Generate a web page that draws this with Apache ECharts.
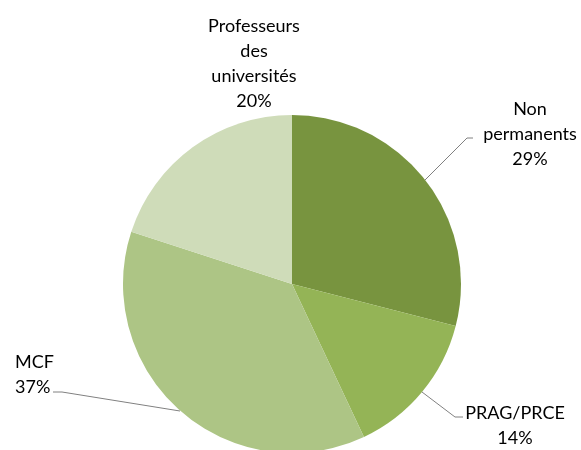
<!DOCTYPE html>
<html>
<head>
<meta charset="utf-8">
<script src="https://cdn.jsdelivr.net/npm/echarts@6/dist/echarts.min.js"></script>
<style>
  html, body { margin: 0; padding: 0; background: #fff; }
  #chart { width: 581px; height: 450px; }
</style>
</head>
<body>
<div id="chart"></div>
<script>
// categories and shares (%)
const categories = ['Non\npermanents', 'PRAG/PRCE', 'MCF', 'Professeurs\ndes\nuniversités']
const shares = [29, 14, 37, 20]
const colors = ['#78943f', '#94b456', '#adc585', '#cfdcb9']

// where each label sits and its leader line (index follows categories)
const labelPos = [
  { x: 530, y: 134, align: 'center', line: [[425, 180], [467, 138], [473, 138]] },
  { x: 515, y: 426, align: 'center', line: [[422, 392], [455, 417], [463, 417]] },
  { x: 15, y: 375, align: 'left', line: [[180, 411], [62, 392], [53, 392]] },
  { x: 254, y: 64, align: 'center', line: null }
]

const chart = echarts.init(document.getElementById('chart'))

chart.setOption({
  animation: false,
  series: [{
    type: 'pie',
    center: [292, 284],
    radius: 169,
    startAngle: 90,
    clockwise: true,
    data: categories.map((name, i) => ({
      name: name,
      value: shares[i],
      itemStyle: { color: colors[i] },
      labelLine: { show: labelPos[i].line !== null }
    })),
    itemStyle: { borderWidth: 0 },
    emphasis: { disabled: true },
    label: {
      show: true,
      position: 'outside',
      formatter: p => p.name + '\n' + Math.round(p.percent) + '%',
      color: '#000',
      fontFamily: 'Lato',
      fontSize: 18,
      lineHeight: 25
    },
    labelLine: {
      show: true,
      lineStyle: { color: '#808080', width: 1 }
    },
    labelLayout: function (params) {
      const p = labelPos[params.dataIndex]
      const out = { x: p.x, y: p.y, align: p.align, verticalAlign: 'middle' }
      if (p.line) out.labelLinePoints = p.line
      return out
    }
  }]
})
</script>
</body>
</html>
